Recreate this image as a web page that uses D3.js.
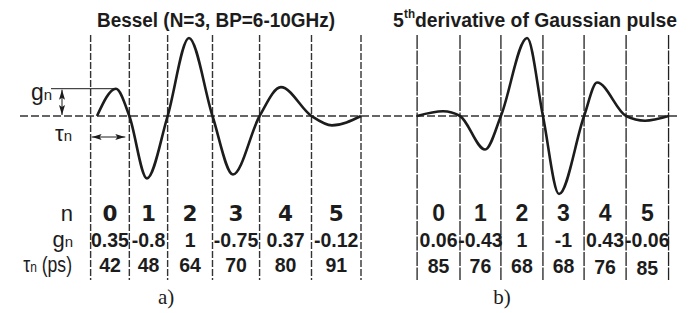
<!DOCTYPE html>
<html>
<head>
<meta charset="utf-8">
<script src="https://cdn.jsdelivr.net/npm/d3@7"></script>
<style>
body { margin: 0; background: #fff; }
svg { display: block; }
.sans { font-family: "Liberation Sans", Arial, sans-serif; }
.narrow { font-family: "Liberation Sans Narrow", "Liberation Sans", Arial, sans-serif; }
</style>
</head>
<body>
<svg id="chart" width="697" height="313"></svg>
<script>
// a) Bessel filter pulse, b) 5th derivative of Gaussian pulse
var lobes = ['0', '1', '2', '3', '4', '5'];

var besselGain = [0.35, -0.8, 1, -0.75, 0.37, -0.12];
var besselDelay = ['42', '48', '64', '70', '80', '91'];
var besselEdges = [32.1, 49.7, 67.1, 87.5, 108.9, 132.5, 155];   // zero crossings (ps)
var besselStart = 35;
var besselPeaks = [43.6, 57.7, 76.8, 96.8, 118.6, 141.8];

var gaussGain = [0.06, -0.43, 1, -1, 0.43, -0.06];
var gaussDelay = ['85', '76', '68', '68', '76', '85'];
var gaussEdges = [25.5, 45, 63.6, 82.7, 101.4, 120.5, 139.8];
var gaussPeaks = [37.3, 56.4, 75.5, 90, 107.3, 129.1];

var gainLabels = {
    a: ['0.35', '-0.8', '1', '-0.75', '0.37', '-0.12'],
    b: ['0.06', '-0.43', '1', '-1', '0.43', '-0.06']
};

var svg = d3.select('#chart');
var ink = '#1c1c1c';

var xA = d3.scaleLinear().domain([0, 155]).range([20, 361]);
var xB = d3.scaleLinear().domain([0, 145]).range([361, 680]);
var y = d3.scaleLinear().domain([-1, 1]).range([194, 38]);

var defs = svg.append('defs');
defs.append('marker')
    .attr('id', 'head')
    .attr('viewBox', '0 0 10 6')
    .attr('refX', 10).attr('refY', 3)
    .attr('markerWidth', 10).attr('markerHeight', 6)
    .attr('markerUnits', 'userSpaceOnUse')
    .attr('orient', 'auto-start-reverse')
    .append('path')
    .attr('d', 'M0,0 L10,3 L0,6 L2,3 Z')
    .attr('fill', ink);

// zero line
svg.append('line')
    .attr('x1', xA(0)).attr('x2', xB(145))
    .attr('y1', y(0)).attr('y2', y(0))
    .attr('stroke', '#333').attr('stroke-width', 1.4)
    .attr('stroke-dasharray', '8,3');

// lobe boundaries
svg.selectAll('.edge-a').data(besselEdges).enter().append('line')
    .attr('class', 'edge-a')
    .attr('x1', function (d) { return xA(d); })
    .attr('x2', function (d) { return xA(d); })
    .attr('y1', 35).attr('y2', 280)
    .attr('stroke', '#333').attr('stroke-width', 1.4)
    .attr('stroke-dasharray', '7,2');

svg.selectAll('.edge-b').data(gaussEdges).enter().append('line')
    .attr('class', 'edge-b')
    .attr('x1', function (d) { return xB(d); })
    .attr('x2', function (d) { return xB(d); })
    .attr('y1', 35).attr('y2', 280)
    .attr('stroke', '#222').attr('stroke-width', 1.3)
    .attr('stroke-dasharray', '14,1.5');

function pulse(start, edges, peaks, gains) {
    var pts = [[start, 0]];
    for (var i = 0; i < gains.length; i++) {
        pts.push([peaks[i], gains[i]]);
        pts.push([edges[i + 1], 0]);
    }
    return pts;
}

function drawPulse(pts, x) {
    var line = d3.line()
        .x(function (d) { return x(d[0]); })
        .y(function (d) { return y(d[1]); })
        .curve(d3.curveMonotoneX);
    svg.append('path')
        .attr('d', line(pts))
        .attr('fill', 'none')
        .attr('stroke', ink)
        .attr('stroke-width', 2.6)
        .attr('stroke-linejoin', 'round');
}

drawPulse(pulse(besselStart, besselEdges, besselPeaks, besselGain), xA);
drawPulse(pulse(gaussEdges[0], gaussEdges, gaussPeaks, gaussGain), xB);

// g_n and tau_n annotations
var gy = y(besselGain[0]);
svg.append('line')
    .attr('x1', 51).attr('x2', xA(besselPeaks[0]))
    .attr('y1', gy).attr('y2', gy)
    .attr('stroke', ink).attr('stroke-width', 1);
svg.append('line')
    .attr('x1', 62).attr('x2', 62)
    .attr('y1', gy + 1).attr('y2', y(0) - 1)
    .attr('stroke', ink).attr('stroke-width', 1)
    .attr('marker-start', 'url(#head)')
    .attr('marker-end', 'url(#head)');
svg.append('line')
    .attr('x1', xA(besselEdges[0]) + 1).attr('x2', xA(besselEdges[1]) - 4)
    .attr('y1', 137).attr('y2', 137)
    .attr('stroke', ink).attr('stroke-width', 1)
    .attr('marker-start', 'url(#head)')
    .attr('marker-end', 'url(#head)');

var gLab = svg.append('text').attr('class', 'sans')
    .attr('x', 31).attr('y', 100).attr('fill', ink);
gLab.append('tspan').attr('font-size', 23).text('g');
gLab.append('tspan').attr('font-size', 15).text('n');

var tLab = svg.append('text').attr('class', 'sans')
    .attr('x', 55).attr('y', 141).attr('fill', ink);
tLab.append('tspan').attr('font-size', 22).text('τ');
tLab.append('tspan').attr('font-size', 15).text('n');

// titles
svg.append('text').attr('class', 'narrow')
    .attr('x', 97).attr('y', 27)
    .attr('font-size', 19.5).attr('font-weight', 'bold')
    .attr('textLength', 238).attr('lengthAdjust', 'spacingAndGlyphs')
    .attr('fill', ink)
    .text('Bessel (N=3, BP=6-10GHz)');

var tb = svg.append('text').attr('class', 'narrow')
    .attr('y', 27).attr('font-weight', 'bold').attr('fill', ink);
tb.append('tspan').attr('x', 393).attr('font-size', 19.5).text('5');
tb.append('tspan').attr('x', 404).attr('dy', -9).attr('font-size', 12)
    .attr('textLength', 11).attr('lengthAdjust', 'spacingAndGlyphs').text('th');
tb.append('tspan').attr('x', 415).attr('dy', 9).attr('font-size', 19.5)
    .attr('textLength', 262).attr('lengthAdjust', 'spacingAndGlyphs')
    .text('derivative of Gaussian pulse');

// row labels
var rowLab = svg.append('g').attr('class', 'sans').attr('fill', ink)
    .attr('text-anchor', 'end');
rowLab.append('text').attr('x', 73).attr('y', 221).attr('font-size', 22).text('n');
var gRow = rowLab.append('text').attr('x', 73).attr('y', 247);
gRow.append('tspan').attr('font-size', 22).text('g');
gRow.append('tspan').attr('font-size', 15).text('n');
var tRow = rowLab.append('text')
    .attr('transform', 'translate(72,272) scale(0.8,1)');
tRow.append('tspan').attr('font-size', 22).text('τ');
tRow.append('tspan').attr('font-size', 15).text('n');
tRow.append('tspan').attr('font-size', 22).text(' (ps)');

// tables
function table(x, edges, gains, delays, nFont, nSize, delayY) {
    var cols = lobes.map(function (n, i) {
        return { n: n, g: gains[i], t: delays[i], cx: (x(edges[i]) + x(edges[i + 1])) / 2 };
    });
    var g = svg.append('g').attr('class', 'sans').attr('fill', ink)
        .attr('text-anchor', 'middle').attr('font-weight', 'bold');
    g.selectAll('.n').data(cols).enter().append('text')
        .attr('x', function (d) { return d.cx; }).attr('y', 221)
        .attr('font-size', nSize).style('font-family', nFont)
        .text(function (d) { return d.n; });
    g.selectAll('.g').data(cols).enter().append('text')
        .attr('x', function (d) { return d.cx; }).attr('y', 247)
        .attr('font-size', 19.5)
        .text(function (d) { return d.g; });
    g.selectAll('.t').data(cols).enter().append('text')
        .attr('x', function (d) { return d.cx; })
        .attr('y', function (d, i) { return delayY[i]; })
        .attr('font-size', 19.5)
        .text(function (d) { return d.t; });
}

table(xA, besselEdges, gainLabels.a, besselDelay, '"DejaVu Sans", sans-serif', 21.5,
    [272, 272, 272, 272, 272, 272]);
table(xB, gaussEdges, gainLabels.b, gaussDelay, '"Liberation Sans", Arial, sans-serif', 23,
    [273, 273, 273, 273, 274, 275]);

// panel captions
svg.selectAll('.cap').data([['a)', xA(66.4)], ['b)', xB(64.1)]]).enter().append('text')
    .attr('x', function (d) { return d[1]; }).attr('y', 304)
    .attr('text-anchor', 'middle')
    .attr('font-family', '"Liberation Serif", "Times New Roman", serif')
    .attr('font-size', 21).attr('fill', ink)
    .text(function (d) { return d[0]; });
</script>
</body>
</html>
